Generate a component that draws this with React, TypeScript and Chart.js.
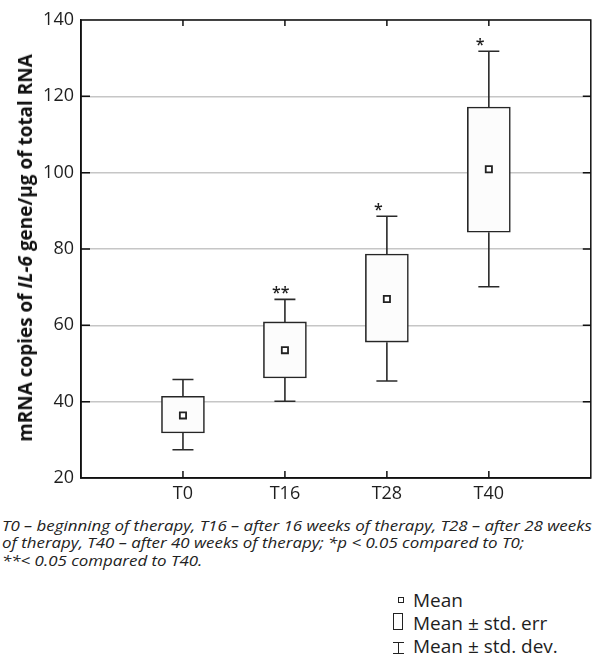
import React, { useEffect, useRef, useState } from 'react';
import { Chart, registerables } from 'chart.js';

Chart.register(...registerables);

// ---- data ----
const categories = ['T0', 'T16', 'T28', 'T40'];
const means = [36.4, 53.5, 66.9, 100.9];
const stdErrLow = [31.8, 46.2, 55.6, 84.4];
const stdErrHigh = [41.4, 60.9, 78.7, 117.2];
const stdDevLow = [27.4, 40.1, 45.4, 70.1];
const stdDevHigh = [45.8, 66.8, 88.6, 131.8];
const significance = ['', '**', '*', '*'];
const yMin = 20;
const yMax = 140;
const yStep = 20;
const captionLines = [
  'T0 – beginning of therapy, T16 – after 16 weeks of therapy, T28 – after 28 weeks',
  'of therapy, T40 – after 40 weeks of therapy; *p < 0.05 compared to T0;',
  '**< 0.05 compared to T40.',
];
const legendLabels = ['Mean', 'Mean ± std. err', 'Mean ± std. dev.'];

const FONT = "'Open Sans', 'Noto Sans', sans-serif";
const INK = '#1e1e1e';

const extrasPlugin = {
  id: 'boxExtras',
  afterDatasetsDraw(chart: any) {
    const { ctx } = chart;
    const xs = chart.scales.x;
    const ys = chart.scales.y;
    ctx.save();
    ctx.strokeStyle = '#2a2a2a';
    ctx.lineWidth = 1.6;
    categories.forEach((_, i) => {
      const px = xs.getPixelForValue(i + 1);
      const half = 10.5;
      const segs = [
        [ys.getPixelForValue(stdErrHigh[i]), ys.getPixelForValue(stdDevHigh[i])],
        [ys.getPixelForValue(stdErrLow[i]), ys.getPixelForValue(stdDevLow[i])],
      ];
      segs.forEach(([a, b]) => {
        ctx.beginPath();
        ctx.moveTo(px, a);
        ctx.lineTo(px, b);
        ctx.moveTo(px - half, b);
        ctx.lineTo(px + half, b);
        ctx.stroke();
      });
      if (significance[i]) {
        ctx.fillStyle = INK;
        ctx.font = `600 16px ${FONT}`;
        ctx.textAlign = 'left';
        ctx.textBaseline = 'alphabetic';
        ctx.fillText(significance[i], px - 13, ys.getPixelForValue(stdDevHigh[i]) - 1);
      }
    });
    ctx.restore();
  },
  afterDraw(chart: any) {
    const { ctx, chartArea: a } = chart;
    const xs = chart.scales.x;
    const ys = chart.scales.y;
    ctx.save();
    ctx.strokeStyle = '#111';
    ctx.lineWidth = 1.5;
    ctx.strokeRect(a.left, a.top, a.right - a.left, a.bottom - a.top);
    ctx.beginPath();
    for (let v = yMin + yStep; v < yMax; v += yStep) {
      const py = ys.getPixelForValue(v);
      ctx.moveTo(a.left, py);
      ctx.lineTo(a.left + 9, py);
      ctx.moveTo(a.right, py);
      ctx.lineTo(a.right - 8, py);
    }
    categories.forEach((_, i) => {
      const px = xs.getPixelForValue(i + 1);
      ctx.moveTo(px, a.top);
      ctx.lineTo(px, a.top + 6);
      ctx.moveTo(px, a.bottom);
      ctx.lineTo(px, a.bottom - 7);
    });
    ctx.stroke();
    ctx.restore();
  },
};

export default function App() {
  const canvasRef = useRef<HTMLCanvasElement | null>(null);
  const capRef = useRef<HTMLSpanElement | null>(null);
  const titleRef = useRef<HTMLSpanElement | null>(null);
  const [capScale, setCapScale] = useState(1);
  const [titleScale, setTitleScale] = useState(1);

  useEffect(() => {
    if (capRef.current) {
      const w = capRef.current.offsetWidth;
      if (w > 0) setCapScale(590 / w);
    }
    if (titleRef.current) {
      const w = titleRef.current.offsetWidth;
      if (w > 0) setTitleScale(388 / w);
    }
  }, []);

  useEffect(() => {
    if (!canvasRef.current) return;
    const labels = ['', ...categories, ''];
    const chart = new Chart(canvasRef.current, {
      type: 'bar',
      data: {
        labels,
        datasets: [
          {
            type: 'line',
            data: [null, ...means, null],
            showLine: false,
            pointStyle: 'rect',
            pointRadius: 4.4,
            pointHoverRadius: 4.4,
            pointBorderWidth: 1.8,
            pointBackgroundColor: '#ffffff',
            pointBorderColor: '#222',
            order: 0,
          } as any,
          {
            type: 'bar',
            data: [null, ...categories.map((_, i) => [stdErrLow[i], stdErrHigh[i]]), null] as any,
            backgroundColor: '#fcfcfc',
            borderColor: '#262626',
            borderWidth: 1.6,
            borderSkipped: false,
            barThickness: 43,
            order: 1,
          } as any,
        ],
      },
      options: {
        responsive: false,
        animation: false,
        devicePixelRatio: 1,
        layout: { padding: { top: 20, right: 1, left: 0, bottom: 0 } },
        plugins: { legend: { display: false }, tooltip: { enabled: false } },
        scales: {
          x: {
            type: 'category',
            offset: false,
            grid: { display: false, drawTicks: false },
            border: { color: '#111', width: 1.5 },
            ticks: {
              font: { family: FONT, size: 18 },
              color: INK,
              padding: 5,
              maxRotation: 0,
              autoSkip: false,
            },
            afterFit: (s: any) => {
              s.height = 32;
            },
          },
          y: {
            min: yMin,
            max: yMax,
            grid: { color: '#c6c6c6', lineWidth: 1.5, drawTicks: false },
            border: { color: '#111', width: 1.5 },
            ticks: {
              stepSize: yStep,
              font: { family: FONT, size: 18 },
              color: INK,
              padding: 7,
            },
            afterFit: (s: any) => {
              s.width = 81;
            },
          },
        },
      },
      plugins: [extrasPlugin],
    });
    return () => chart.destroy();
  }, []);

  const legendTop = 588.5;
  const lineH = 23;

  return (
    <div
      style={{
        position: 'absolute',
        left: 0,
        top: 0,
        width: 597,
        height: 656,
        background: '#fff',
        overflow: 'hidden',
        fontFamily: FONT,
        color: INK,
      }}
    >
      <canvas ref={canvasRef} width={597} height={510} style={{ display: 'block', position: 'absolute', left: 0, top: 0 }} />
      <div
        style={{
          position: 'absolute',
          left: 24.5,
          top: 248,
          transform: `translate(-50%, -50%) rotate(-90deg) scaleX(${titleScale})`,
          whiteSpace: 'nowrap',
          fontWeight: 700,
          fontSize: 19,
          lineHeight: '20px',
          color: '#111',
        }}
      >
        <span ref={titleRef}>
          mRNA copies of <i>IL-6</i> gene/μg of total RNA
        </span>
      </div>
      <div
        style={{
          position: 'absolute',
          left: 2,
          top: 516.8,
          fontStyle: 'italic',
          fontSize: 14.7,
          lineHeight: '17.5px',
          whiteSpace: 'nowrap',
          transform: `scaleX(${capScale})`,
          transformOrigin: '0 0',
          color: '#222',
        }}
      >
        {captionLines.map((t, i) => (
          <div key={i}>
            {i === 0 ? <span ref={capRef}>{t}</span> : t}
          </div>
        ))}
      </div>
      <div style={{ position: 'absolute', left: 413, top: legendTop, fontSize: 19, lineHeight: `${lineH}px`, whiteSpace: 'nowrap' }}>
        {legendLabels.map((t, i) => (
          <div key={i}>{t}</div>
        ))}
      </div>
      {/* legend symbols */}
      <div style={{ position: 'absolute', left: 398, top: 597, width: 4, height: 4, border: '1px solid #222', background: '#fff' }} />
      <div style={{ position: 'absolute', left: 393, top: 613, width: 8, height: 15, border: '1.2px solid #222', background: '#fff' }} />
      <div style={{ position: 'absolute', left: 393, top: 642, width: 11, height: 0, borderTop: '1.2px solid #222' }} />
      <div style={{ position: 'absolute', left: 398, top: 642, width: 0, height: 12, borderLeft: '1.2px solid #222' }} />
      <div style={{ position: 'absolute', left: 393, top: 653, width: 11, height: 0, borderTop: '1.2px solid #222' }} />
    </div>
  );
}
